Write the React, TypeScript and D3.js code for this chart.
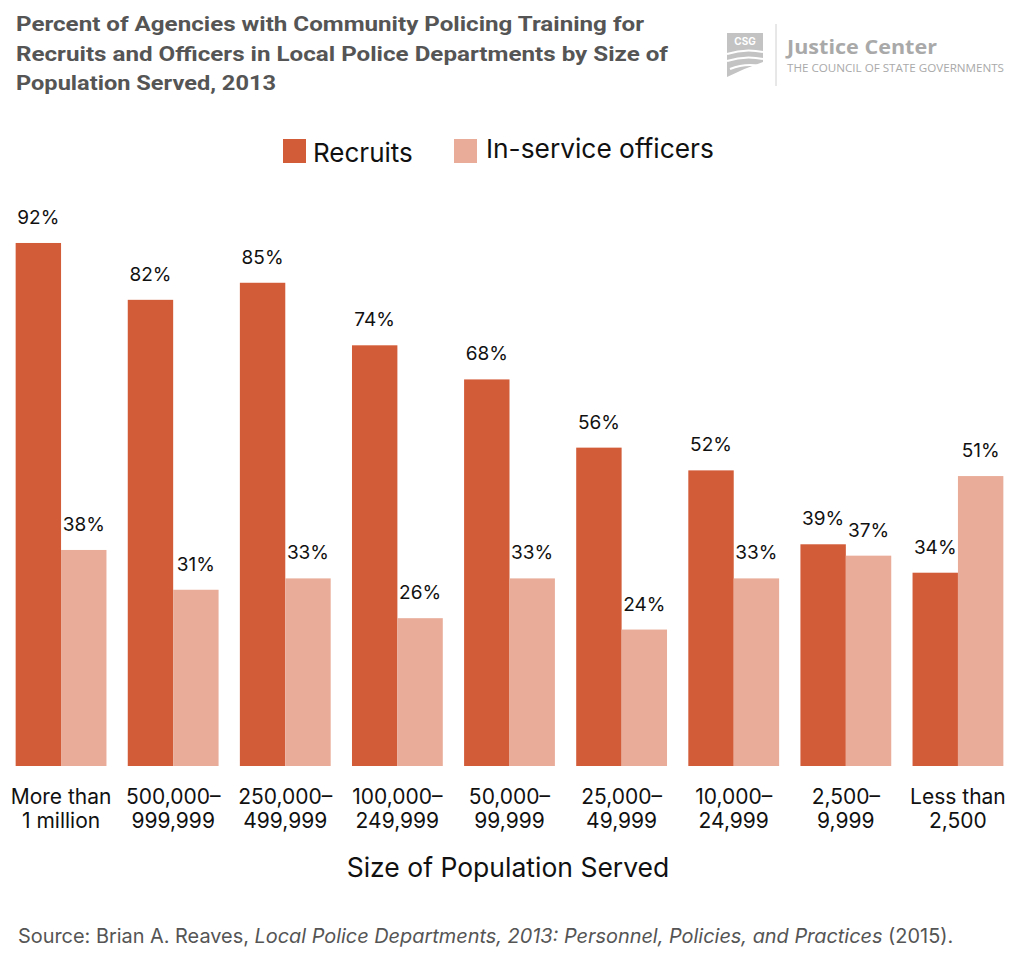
import React from "react";
import * as d3 from "d3";

const categories = [
  ["More than", "1 million"],
  ["500,000–", "999,999"],
  ["250,000–", "499,999"],
  ["100,000–", "249,999"],
  ["50,000–", "99,999"],
  ["25,000–", "49,999"],
  ["10,000–", "24,999"],
  ["2,500–", "9,999"],
  ["Less than", "2,500"],
];
const recruits = [92, 82, 85, 74, 68, 56, 52, 39, 34];
const inService = [38, 31, 33, 26, 33, 24, 33, 37, 51];
const seriesNames = ["Recruits", "In-service officers"];
const colors = ["#D25B38", "#E9AC98"];
const titleLines = [
  "Percent of Agencies with Community Policing Training for",
  "Recruits and Officers in Local  Police Departments by Size of",
  "Population Served, 2013",
];

const W = 1021;
const H = 966;
const FONT = "Inter, Roboto, 'Noto Sans', sans-serif";

export default function App() {
  const keys = categories.map((c) => c.join(" "));
  const x = d3.scaleBand<string>().domain(keys).range([5, 1014]).paddingInner(0.19).paddingOuter(0.095);
  const sub = d3.scaleBand<string>().domain(["r", "i"]).range([0, x.bandwidth()]).padding(0);
  const y = d3.scaleLinear().domain([0, 100]).range([766, 197.5]);
  const series = [recruits, inService];
  const subKeys = ["r", "i"];

  return (
    <svg width={W} height={H} style={{ position: "absolute", left: 0, top: 0 }} xmlns="http://www.w3.org/2000/svg">
      <rect width={W} height={H} fill="#fff" />
      {/* Title */}
      {titleLines.map((t, i) => (
        <text
          key={i}
          x={16}
          y={31 + i * 29.5}
          fontFamily="'Liberation Sans Narrow', 'Roboto', sans-serif"
          fontWeight="bold"
          fontSize={21}
          fill="#555555"
          textLength={[628, 652, 260][i]}
          lengthAdjust="spacingAndGlyphs"
        >
          {t}
        </text>
      ))}
      {/* Logo */}
      <g>
        <path d="M727,33 L763,33 L763,62 Q745,68 727,77 Z" fill="#c3c3c3" />
        <text x={745} y={45} textAnchor="middle" fontFamily={FONT} fontWeight="bold" fontSize={10} fill="#fff">CSG</text>
        <path d="M727,54 Q745,48 763,52" stroke="#fff" strokeWidth={2} fill="none" />
        <path d="M727,61 Q745,55 763,59" stroke="#fff" strokeWidth={2} fill="none" />
        <path d="M730,69 Q745,63 760,66" stroke="#fff" strokeWidth={2} fill="none" />
        <line x1={776} x2={776} y1={24} y2={86} stroke="#d0d0d0" strokeWidth={1} />
        <text x={787} y={54} fontFamily="'Open Sans', sans-serif" fontWeight="bold" fontSize={20} fill="#a9a9a9" textLength={150} lengthAdjust="spacingAndGlyphs">Justice Center</text>
        <text x={787} y={72} fontFamily="'Open Sans', sans-serif" fontSize={10.5} fill="#a9a9a9" textLength={217} lengthAdjust="spacingAndGlyphs">THE COUNCIL OF STATE GOVERNMENTS</text>
      </g>
      {/* Legend */}
      <rect x={283} y={139} width={23} height={24} fill={colors[0]} />
      <text x={313} y={162} fontFamily={FONT} fontSize={26} fill="#111">{seriesNames[0]}</text>
      <rect x={454} y={139} width={23} height={24} fill={colors[1]} />
      <text x={486} y={158} fontFamily={FONT} fontSize={26.3} fill="#111">{seriesNames[1]}</text>
      {/* Bars */}
      {keys.map((k, i) => (
        <g key={k} transform={`translate(${x(k)},0)`}>
          {series.map((s, j) => (
            <g key={j}>
              <rect
                x={sub(subKeys[j])}
                y={y(s[i])}
                width={sub.bandwidth()}
                height={y(0) - y(s[i])}
                fill={colors[j]}
              />
              <text
                x={(sub(subKeys[j]) as number) + sub.bandwidth() / 2}
                y={y(s[i]) - 19}
                textAnchor="middle"
                fontFamily={FONT}
                fontSize={19}
                fill="#111"
              >
                {s[i]}%
              </text>
            </g>
          ))}
          {categories[i].map((line, li) => (
            <text
              key={li}
              x={x.bandwidth() / 2}
              y={804 + li * 24}
              textAnchor="middle"
              fontFamily={FONT}
              fontSize={21}
              fill="#111"
            >
              {line}
            </text>
          ))}
        </g>
      ))}
      {/* Axis title */}
      <text x={508} y={877} textAnchor="middle" fontFamily={FONT} fontSize={26.5} fill="#111">
        Size of Population Served
      </text>
      {/* Source */}
      <text x={18} y={943} fontFamily={FONT} fontSize={19.9} fill="#555">
        Source: Brian A. Reaves, <tspan fontStyle="italic">Local Police Departments, 2013: Personnel, Policies, and Practices</tspan> (2015).
      </text>
    </svg>
  );
}
